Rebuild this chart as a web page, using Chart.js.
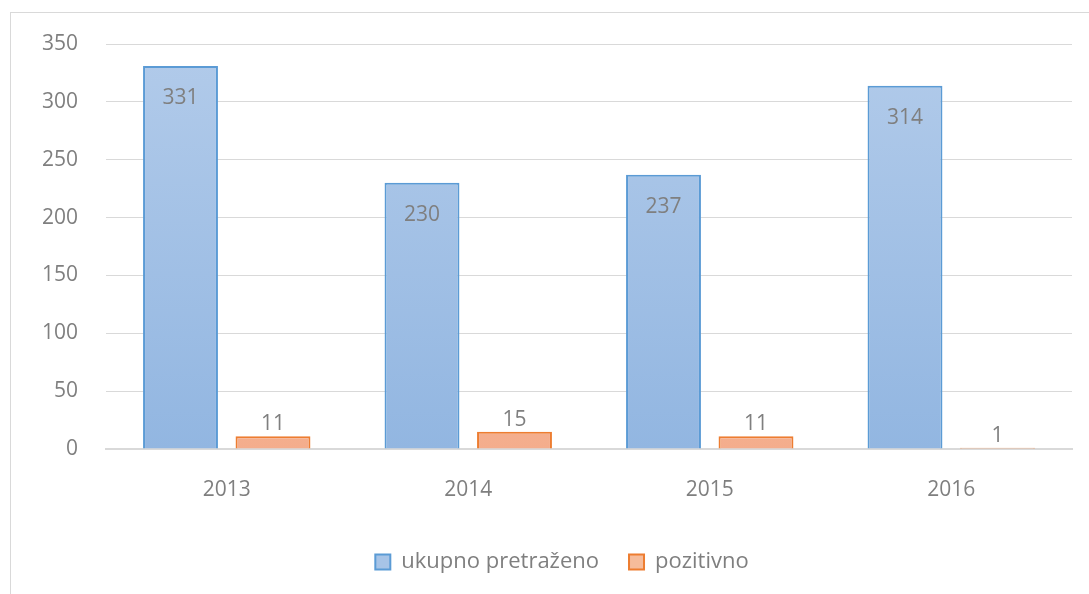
<!DOCTYPE html>
<html>
<head>
<meta charset="utf-8">
<script src="https://cdn.jsdelivr.net/npm/chart.js@4/dist/chart.umd.min.js"></script>
<style>
  html, body { margin: 0; padding: 0; background: #fff; }
  #wrap { width: 1089px; height: 594px; position: relative; }
</style>
</head>
<body>
<div id="wrap"><canvas id="c"></canvas></div>
<script>
const years = ['2013', '2014', '2015', '2016'];
const total = [331, 230, 237, 314];
const positive = [11, 15, 11, 1];
const yTicks = [0, 50, 100, 150, 200, 250, 300, 350];

const font = "'Open Sans', 'Liberation Sans', sans-serif";
const textColor = '#7f7f7f';

function vertGradient(ctx, c1, c2) {
  const chart = ctx.chart;
  const area = chart.chartArea;
  if (!area) return c2;
  const g = chart.ctx.createLinearGradient(0, area.top, 0, area.bottom);
  g.addColorStop(0, c1);
  g.addColorStop(1, c2);
  return g;
}

// outer frame of the chart box
const frame = {
  id: 'frame',
  beforeDraw(chart) {
    const c = chart.ctx;
    c.save();
    c.strokeStyle = '#d9d9d9';
    c.lineWidth = 1;
    c.strokeRect(10.5, 12.5, chart.width, chart.height);
    c.restore();
  }
};

// nudge the legend a bit to the right
const legendShift = {
  id: 'legendShift',
  afterLayout(chart) {
    if (chart.legend) {
      chart.legend.left += 26;
      chart.legend.right += 26;
    }
  }
};

// value labels: inside the top of the blue bars, above the orange ones
const valueLabels = {
  id: 'valueLabels',
  afterDatasetsDraw(chart) {
    const c = chart.ctx;
    c.save();
    c.font = '21px ' + font;
    c.fillStyle = textColor;
    c.textAlign = 'center';
    c.textBaseline = 'alphabetic';
    chart.data.datasets.forEach((ds, di) => {
      chart.getDatasetMeta(di).data.forEach((bar, i) => {
        const v = ds.data[i];
        if (di === 0) {
          c.fillText(v, bar.x, bar.y + 38);
        } else {
          c.fillText(v, bar.x, bar.y - 6);
        }
      });
    });
    c.restore();
  }
};

new Chart(document.getElementById('c'), {
  type: 'bar',
  data: {
    labels: years,
    datasets: [
      {
        label: 'ukupno pretraženo',
        data: total,
        backgroundColor: ctx => vertGradient(ctx, '#b2cbea', '#92b6e1'),
        borderColor: '#5b9bd5',
        borderWidth: 2,
        borderSkipped: 'bottom'
      },
      {
        label: 'pozitivno',
        data: positive,
        backgroundColor: ctx => vertGradient(ctx, '#f8cbad', '#f4ad8c'),
        borderColor: '#ed7d31',
        borderWidth: 2,
        borderSkipped: 'bottom'
      }
    ]
  },
  options: {
    responsive: true,
    maintainAspectRatio: false,
    animation: false,
    categoryPercentage: 0.766,
    barPercentage: 0.81,
    layout: { padding: { left: 0, right: 17, top: 44, bottom: 11 } },
    plugins: {
      legend: {
        position: 'bottom',
        labels: {
          font: { family: font, size: 22 },
          color: textColor,
          boxWidth: 15,
          boxHeight: 15,
          padding: 30,
          generateLabels(chart) {
            const fills = ['#a7c4e7', '#f6bc9b'];
            return chart.data.datasets.map((ds, i) => ({
              text: ds.label,
              fillStyle: fills[i],
              strokeStyle: ds.borderColor,
              lineWidth: 2,
              fontColor: textColor,
              datasetIndex: i
            }));
          }
        }
      },
      tooltip: { enabled: false }
    },
    scales: {
      x: {
        grid: { display: false, drawTicks: false },
        border: { color: '#d9d9d9', width: 2 },
        ticks: { font: { family: font, size: 21 }, color: textColor, padding: 28 },
        afterFit(scale) { scale.height = 72; }
      },
      y: {
        min: 0,
        max: 350,
        afterBuildTicks(scale) { scale.ticks = yTicks.map(v => ({ value: v })); },
        grid: { color: '#d9d9d9', drawTicks: false },
        border: { display: false },
        ticks: { font: { family: font, size: 21 }, color: textColor, padding: 28 },
        afterFit(scale) { scale.width = 106; }
      }
    }
  },
  plugins: [frame, legendShift, valueLabels]
});
</script>
</body>
</html>
